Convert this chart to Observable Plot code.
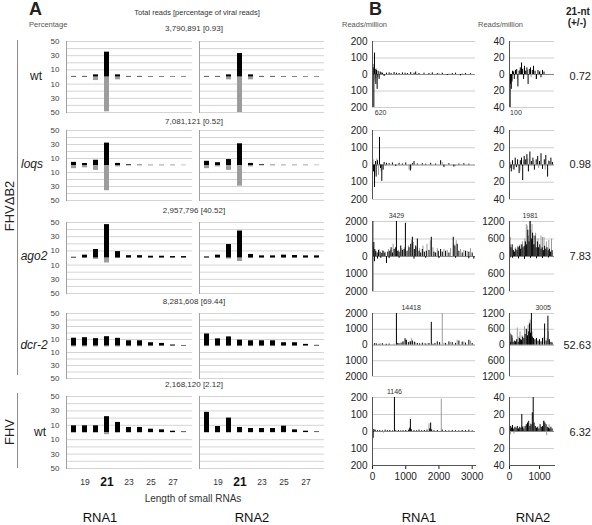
<!DOCTYPE html>
<html><head><meta charset="utf-8">
<script src="https://cdn.jsdelivr.net/npm/d3@7"></script>
<script src="https://cdn.jsdelivr.net/npm/@observablehq/plot@0.6"></script>
<style>
body{margin:0;background:#fff;}
#fig{position:relative;width:592px;height:525px;overflow:hidden;font-family:"Liberation Sans",Arial,sans-serif;color:#222;background:#fff;}
.t{position:absolute;white-space:nowrap;line-height:1;}
.c{transform:translate(-50%,-50%);}
.r{transform:translate(-100%,-50%);}
.p{position:absolute;}
.p svg{overflow:visible;background:transparent;}
.vl{position:absolute;width:0;border-left:1.5px solid #8a8a8a;}
</style></head><body><div id="fig"></div>
<script>
// ---------------- DATA ----------------
const lengths = [18,19,20,21,22,23,24,25,26,27,28];
const xLabels = [19,23,25,27];
const xBold = [21];
const strains = ["wt","loqs","ago2","dcr-2","wt"];
const totalReads = ["3,790,891","7,081,121","2,957,796","8,281,608","2,168,120"];
const viralPct = ["0.93","0.52","40.52","69.44","2.12"];
const nt21Ratio = ["0.72","0.98","7.83","52.63","6.32"];
const aTicks = [-50,-30,-10,10,30,50];
const aGrid = [-50,-40,-30,-20,-10,10,20,30,40,50];

// Panel A: percentage of sense (+) and antisense (-) reads per length
const a_wt_rna1_s   = [0.8,0.8,3,35,3,0.8,0.8,0.6,0.6,0.5,0.5];
const a_wt_rna1_a   = [0.6,0.6,5,49,4,0.6,0.6,0.5,0.5,0.5,0.4];
const a_wt_rna2_s   = [0.8,0.8,3,33,3,0.8,0.8,0.6,0.6,0.5,0.5];
const a_wt_rna2_a   = [0.6,0.6,4,50,4,0.6,0.6,0.5,0.5,0.5,0.4];
const a_loqs_rna1_s = [4.5,2.8,7.5,32,3,1,0.5,0.3,0.3,0.3,0.2];
const a_loqs_rna1_a = [4.5,3.3,7,36,2,0.8,0.6,0.6,0.6,0.5,0.3];
const a_loqs_rna2_s = [6,4,8.5,31,3,1,0.4,0.3,0.3,0.3,0.2];
const a_loqs_rna2_a = [4.5,2,7,29.5,2,0.6,0.6,0.5,0.5,0.5,0.3];
const a_ago2_rna1_s = [1,4,12,47,9,3.3,3.3,2.5,2.5,2,2];
const a_ago2_rna1_a = [0.5,0.5,2,7,0.8,0.5,0.5,0.5,0.5,0.5,0.5];
const a_ago2_rna2_s = [1.5,4,19,38,5,3,3,4,3.5,3,3];
const a_ago2_rna2_a = [0.5,0.5,1.5,5,0.8,0.5,0.5,0.5,0.5,0.5,0.5];
const a_dcr2_rna1_s = [12,12.8,11.3,14.3,11.8,8,8,5,4,1.5,0.8];
const a_dcr2_rna1_a = [1.5,1.5,1.5,1.5,1.5,1.2,1.2,1,0.8,0.5,0.3];
const a_dcr2_rna2_s = [18.5,11,14,9,8,8,8,5,5,2.5,1];
const a_dcr2_rna2_a = [1,1,1,1,1,1,1,0.8,0.8,0.5,0.3];
const a_fhv_rna1_s  = [9.3,9.3,9.3,22,14,7,7,4.6,3.7,1.8,0.8];
const a_fhv_rna1_a  = [1,1,1,3,1,0.8,0.8,0.6,0.6,0.5,0.3];
const a_fhv_rna2_s  = [28,8.3,20,7,5.5,5.5,5.5,8.8,3.7,1.8,0.8];
const a_fhv_rna2_a  = [0.8,0.8,0.8,0.8,0.6,0.6,0.6,0.6,0.5,0.3,0.2];

// Panel B: reads/million along genome [position, value]
const bMaxRNA1 = [200,200,2000,2000,200];
const bMaxRNA2 = [40,40,1200,1200,40];
const bXTicksRNA1 = [0,1000,2000,3000];
const bXTicksRNA2 = [0,1000];

const b_wt_rna1_k = [[20,40],[40,-620],[60,130],[80,30],[100,-60],[120,25],[140,-90],[170,20],[200,-30],[230,15],[260,10],[300,8],[350,-12],[420,8],[500,10],[560,6],[650,12],[720,8],[800,6],[900,10],[980,8],[1050,6],[1150,12],[1250,8],[1300,15],[1400,6],[1550,8],[1700,6],[1800,10],[1950,6],[2100,8],[2250,-6],[2400,6],[2500,8],[2650,-8],[2800,6],[2950,5]];
const b_wt_rna1_g = [[30,60],[50,-40],[90,-25],[110,35],[150,-20],[190,-15],[600,-5],[1100,-6],[1600,-5],[2000,5],[2300,4],[2700,5]];
const b_wt_rna2_k = [[20,-100],[40,-12],[60,-18],[80,-8],[100,4],[130,3],[160,-6],[200,5],[240,6],[280,-15],[320,4],[360,8],[400,14],[430,6],[470,-6],[500,10],[540,4],[580,8],[620,-12],[660,6],[700,8],[760,5],[800,10],[850,4],[900,-6],[950,5],[1000,3],[1050,-4],[1100,5],[1150,3]];
const b_wt_rna2_g = [[30,-8],[90,-10],[150,4],[260,-6],[340,5],[450,7],[600,5],[720,-4],[880,-6],[1020,4]];

const b_loqs_rna1_k = [[30,-40],[60,-130],[90,20],[110,-70],[150,25],[210,160],[240,-20],[280,-95],[320,-30],[350,15],[420,10],[500,8],[600,12],[700,-8],[800,10],[900,6],[1000,12],[1140,-35],[1200,8],[1250,20],[1350,6],[1500,8],[1600,5],[1750,10],[1900,6],[2050,25],[2150,-15],[2300,8],[2450,-12],[2600,6],[2750,8],[2900,5]];
const b_loqs_rna1_g = [[20,30],[70,-50],[130,35],[180,-60],[260,-40],[400,-8],[1100,-30],[1160,-25],[2100,15],[2500,-10]];
const b_loqs_rna2_k = [[20,-4],[60,-8],[100,5],[150,-6],[190,8],[230,-3],[270,6],[320,-10],[360,5],[400,8],[440,-18],[490,10],[540,6],[580,12],[630,-8],[680,15],[730,4],[780,8],[830,-6],[890,6],[940,10],[1000,4],[1050,13],[1100,-5],[1160,6],[1210,11],[1270,-14],[1320,4],[1380,8],[1430,3]];
const b_loqs_rna2_g = [[40,3],[120,-5],[200,4],[350,-7],[470,5],[610,7],[810,5],[970,-4],[1190,-6],[1300,5]];

const b_ago2_rna1_k = [[10,2000],[10,-2000],[40,800],[70,400],[100,300],[140,200],[180,350],[230,250],[280,180],[320,300],[370,200],[420,-400],[460,250],[520,300],[560,500],[600,200],[650,400],[700,500],[720,3429],[760,300],[800,250],[850,600],[900,350],[950,400],[990,1900],[1040,300],[1100,500],[1150,700],[1200,1100],[1260,400],[1300,600],[1350,1000],[1400,300],[1450,200],[1500,400],[1560,250],[1620,300],[1700,350],[1770,1100],[1850,250],[1900,200],[1980,300],[2050,400],[2100,250],[2200,300],[2300,200],[2430,1100],[2480,600],[2550,700],[2600,300],[2700,200],[2800,300],[2900,250],[3000,200],[3050,-150],[60,-300],[150,-150],[250,-100],[500,-120],[800,-100],[1250,-150],[1600,-100],[2000,-120],[2500,-100],[2900,-130]];
const b_ago2_rna1_g = [[30,500],[90,250],[200,400],[300,350],[380,250],[480,400],[540,350],[620,700],[680,450],[780,350],[880,450],[960,500],[1080,600],[1180,900],[1230,800],[1320,500],[1420,450],[1520,600],[1640,700],[1740,900],[1820,500],[1950,450],[2150,400],[2250,350],[2350,450],[2450,700],[2520,900],[2650,400],[2750,350],[2850,300],[2950,450]];
const b_ago2_rna2_k = [[10,650],[50,300],[90,400],[130,200],[170,150],[210,250],[250,200],[290,300],[330,350],[370,250],[410,400],[450,300],[490,350],[530,500],[570,400],[610,900],[650,500],[690,1981],[730,600],[770,800],[810,400],[850,700],[890,300],[930,500],[970,300],[1010,400],[1050,250],[1090,300],[1130,200],[1170,350],[1210,250],[1250,300],[1290,200],[1330,250],[1370,150],[1420,200],[20,-50],[100,-60],[300,-80],[500,-100],[700,-60],[900,-80],[1100,-70],[1300,-50]];
const b_ago2_rna2_g = [[30,400],[110,250],[190,300],[270,350],[350,400],[430,500],[510,600],[560,1100],[590,1050],[630,700],[670,1200],[710,900],[750,1100],[790,700],[830,400],[870,800],[950,600],[1050,700],[1100,650],[1150,650],[1230,500],[1310,550],[1400,600]];

const b_dcr2_rna1_k = [[60,80],[120,60],[200,50],[300,80],[420,40],[500,60],[720,14418],[760,100],[800,80],[860,120],[920,200],[980,400],[1020,300],[1080,150],[1140,200],[1200,250],[1260,180],[1350,100],[1420,80],[1500,120],[1600,60],[1700,100],[1770,1440],[1820,50],[1880,100],[1950,200],[2020,150],[2200,100],[2300,200],[2400,150],[2500,100],[2600,250],[2700,180],[2800,120],[2900,300],[3000,100]];
const b_dcr2_rna1_g = [[100,100],[250,80],[400,50],[650,60],[900,150],[1000,300],[1100,200],[1180,400],[1300,150],[1560,100],[1650,80],[2100,2000],[2150,120],[2350,150],[2550,300],[2750,200],[2950,250]];
const b_dcr2_rna2_k = [[10,400],[40,100],[80,350],[120,100],[160,150],[200,120],[240,200],[290,100],[330,250],[370,200],[400,180],[440,300],[480,250],[520,400],[560,600],[600,350],[640,500],[670,800],[700,450],[730,3005],[760,300],[800,250],[850,200],[900,250],[950,150],[1000,200],[1050,120],[1100,250],[1170,800],[1220,150],[1280,1100],[1330,200],[1380,100],[1420,80]];
const b_dcr2_rna2_g = [[25,450],[60,400],[100,250],[260,650],[310,300],[350,500],[420,350],[500,700],[580,550],[620,750],[660,850],[690,950],[750,500],[820,200],[1000,100],[1150,300],[1250,250],[1300,500]];

const b_fhv_rna1_k = [[20,-40],[40,12],[80,8],[150,5],[220,6],[300,4],[380,8],[450,5],[520,6],[600,4],[660,1146],[700,5],[780,6],[850,4],[920,5],[1000,6],[1080,8],[1120,20],[1140,70],[1170,10],[1250,6],[1330,5],[1400,8],[1480,5],[1560,6],[1640,8],[1720,15],[1750,50],[1780,10],[1850,5],[1950,6],[2100,8],[2200,5],[2300,4],[2400,6],[2500,5],[2600,4],[2700,6],[2800,5],[2900,8],[3000,4]];
const b_fhv_rna1_g = [[60,6],[330,-10],[700,-5],[1100,6],[1700,45],[2070,190],[2500,-4],[2950,-6]];
const b_fhv_rna2_k = [[10,3],[40,6],[70,4],[100,7],[140,3],[180,5],[220,4],[260,6],[300,3],[340,5],[380,4],[410,20],[440,5],[480,3],[520,6],[560,8],[600,10],[640,12],[680,6],[720,8],[760,22],[790,40],[820,10],[860,6],[900,4],[940,5],[980,3],[1020,8],[1060,5],[1100,6],[1140,12],[1180,10],[1220,8],[1260,5],[1300,4],[1340,3],[1380,5],[1420,3]];
const b_fhv_rna2_g = [[30,-4],[150,-3],[450,6],[700,9],[1160,12],[1240,-5],[1320,8]];

// ---------------- LAYOUT ----------------
const fig = document.getElementById("fig");
const FONT = '"Liberation Sans", Arial, sans-serif';
function txt(s, x, y, style = "", cls = "c") {
  const d = document.createElement("div");
  d.className = "t" + (cls ? " " + cls : "");
  d.style.cssText += `left:${x}px;top:${y}px;${style}`;
  d.textContent = s; fig.appendChild(d); return d;
}
function place(el, left, top, w) {
  const d = document.createElement("div");
  d.className = "p"; d.style.left = left + "px"; d.style.top = top + "px"; d.style.width = w + "px";
  d.appendChild(el); fig.appendChild(d);
}

const aRows = [[41,112],[130,200],[222,293],[313,378],[396,468]];
const bRows = [[41,107],[130,199],[221,291],[313,376],[397,465]];
const aCols = [[66,192],[199,324]];
const bCols = [[372,475],[509,554]];

const aData = [
  [[a_wt_rna1_s,a_wt_rna1_a],[a_wt_rna2_s,a_wt_rna2_a]],
  [[a_loqs_rna1_s,a_loqs_rna1_a],[a_loqs_rna2_s,a_loqs_rna2_a]],
  [[a_ago2_rna1_s,a_ago2_rna1_a],[a_ago2_rna2_s,a_ago2_rna2_a]],
  [[a_dcr2_rna1_s,a_dcr2_rna1_a],[a_dcr2_rna2_s,a_dcr2_rna2_a]],
  [[a_fhv_rna1_s,a_fhv_rna1_a],[a_fhv_rna2_s,a_fhv_rna2_a]]
];
const bData = [
  [[b_wt_rna1_k,b_wt_rna1_g],[b_wt_rna2_k,b_wt_rna2_g]],
  [[b_loqs_rna1_k,b_loqs_rna1_g],[b_loqs_rna2_k,b_loqs_rna2_g]],
  [[b_ago2_rna1_k,b_ago2_rna1_g],[b_ago2_rna2_k,b_ago2_rna2_g]],
  [[b_dcr2_rna1_k,b_dcr2_rna1_g],[b_dcr2_rna2_k,b_dcr2_rna2_g]],
  [[b_fhv_rna1_k,b_fhv_rna1_g],[b_fhv_rna2_k,b_fhv_rna2_g]]
];

function aPanel(s, a, x0, x1, y0, y1, labels, xaxis) {
  const ml = labels ? 36 : 4, mr = 2, mt = 2, mb = xaxis ? 26 : 2;
  const W = x1 - x0, H = y1 - y0;
  const data = lengths.map((l, i) => ({l, s: s[i], a: -a[i]}));
  const marks = [
    Plot.ruleY(aGrid, {stroke: "#d4d4d4", strokeWidth: 1}),
    Plot.barY(data, {x: "l", y1: 0, y2: "a", fill: "#9c9c9c"}),
    Plot.barY(data, {x: "l", y1: 0, y2: "s", fill: "#000"}),
    Plot.frame({anchor: "left", stroke: "#a0a0a0"})
  ];
  if (labels) marks.push(Plot.axisY(aTicks, {label: null, tickFormat: d => String(Math.abs(d)), tickSize: 0, tickPadding: 7, fontSize: 8, color: "#444"}));
  if (xaxis) {
    marks.push(Plot.text(xLabels, {x: d => d, text: d => String(d), frameAnchor: "bottom", lineAnchor: "middle", dy: 14, fontSize: 8.5, fill: "#333"}));
    marks.push(Plot.text(xBold, {x: d => d, text: d => String(d), frameAnchor: "bottom", lineAnchor: "middle", dy: 14, fontSize: 12, fontWeight: "bold", fill: "#111"}));
  }
  const p = Plot.plot({
    width: W + ml + mr, height: H + mt + mb,
    marginLeft: ml, marginRight: mr, marginTop: mt, marginBottom: mb,
    style: {fontFamily: FONT, background: "transparent", overflow: "visible"},
    x: {type: "band", domain: lengths, paddingInner: 0.52, paddingOuter: 0.26, axis: null},
    y: {domain: [-50, 50], axis: null},
    marks
  });
  place(p, x0 - ml, y0 - mt, W + ml + mr);
}

function bPanel(black, gray, max, x0, x1, y0, y1, dom, xticks, annAnchor, annDx) {
  const ml = 34, mr = 2, mt = 14;
  const W = x1 - x0, H = y1 - y0;
  const mb = xticks ? 26 : 10;
  const height = mt + H + mb;
  const toObj = arr => arr.map(([p, v]) => ({p, v}));
  const k = toObj(black), g = toObj(gray);
  const ann = k.concat(g).filter(d => Math.abs(d.v) > max);
  const marks = [
    Plot.ruleY([-max, -max / 2, max / 2, max], {stroke: "#cfcfcf"}),
    Plot.ruleY([0], {stroke: "#555", strokeWidth: 0.7}),
    Plot.ruleX(g, {x: "p", y1: 0, y2: "v", stroke: "#9a9a9a", strokeWidth: 1}),
    Plot.ruleX(k, {x: "p", y1: 0, y2: "v", stroke: "#000", strokeWidth: 1}),
    Plot.ruleX([0], {y1: -max, y2: max, stroke: "#555", strokeWidth: 1}),
    Plot.axisY([-max, -max / 2, 0, max / 2, max], {label: null, tickFormat: d => String(Math.abs(d)), tickSize: 0, tickPadding: 5, fontSize: 10, color: "#222"}),
    Plot.text(ann.filter(d => d.v > 0), {x: "p", text: d => String(Math.abs(d.v)), frameAnchor: "top", lineAnchor: "middle", dy: -6, dx: annDx, textAnchor: annAnchor, fontSize: 7, fill: "#333"}),
    Plot.text(ann.filter(d => d.v < 0), {x: "p", text: d => String(Math.abs(d.v)), frameAnchor: "bottom", lineAnchor: "middle", dy: 5, dx: annDx, textAnchor: annAnchor, fontSize: 7, fill: "#333"})
  ];
  if (xticks) {
    marks.push(Plot.axisX(xticks, {label: null, tickFormat: d => String(d), tickSize: 4, tickPadding: 3, fontSize: 10, color: "#222"}));
    marks.push(Plot.frame({anchor: "bottom", stroke: "#555"}));
  }
  const p = Plot.plot({
    width: W + ml + mr, height,
    marginLeft: ml, marginRight: mr, marginTop: mt, marginBottom: mb,
    style: {fontFamily: FONT, background: "transparent", overflow: "visible"},
    x: {domain: dom, axis: null},
    y: {domain: [-max, max], range: [mt + H, mt], clamp: true, axis: null},
    marks
  });
  place(p, x0 - ml, y0 - mt, W + ml + mr);
}

// Panel A
aRows.forEach(([y0, y1], r) => {
  aCols.forEach(([x0, x1], c) => {
    aPanel(aData[r][c][0], aData[r][c][1], x0, x1, y0, y1, c === 0, r === 4);
  });
});

// Panel B
const annCfg = [
  [["start", 1], ["start", 0]],
  [["middle", 0], ["middle", 0]],
  [["middle", 0], ["middle", 0]],
  [["start", 5], ["start", 4]],
  [["middle", 0], ["middle", 0]]
];
bRows.forEach(([y0, y1], r) => {
  bPanel(bData[r][0][0], bData[r][0][1], bMaxRNA1[r], bCols[0][0], bCols[0][1], y0, y1, [0, 3100], r === 4 ? bXTicksRNA1 : null, annCfg[r][0][0], annCfg[r][0][1]);
  bPanel(bData[r][1][0], bData[r][1][1], bMaxRNA2[r], bCols[1][0], bCols[1][1], y0, y1, [0, 1500], r === 4 ? bXTicksRNA2 : null, annCfg[r][1][0], annCfg[r][1][1]);
});

// Text
txt("A", 29, 0, "font-size:18px;font-weight:bold;", "");
txt("B", 369, 0, "font-size:18px;font-weight:bold;", "");
txt("Total reads [percentage of viral reads]", 197, 13, "font-size:7.5px;color:#333;");
txt("Percentage", 29, 21, "font-size:7.5px;color:#555;", "");
txt("Reads/million", 342, 21, "font-size:7.5px;color:#555;", "");
txt("Reads/million", 478, 21, "font-size:7.5px;color:#555;", "");
txt("21-nt", 578, 12, "font-size:10px;font-weight:bold;");
txt("(+/-)", 577, 23, "font-size:10px;font-weight:bold;");

const aLabelY = [29, 122, 211, 302, 385];
const rowCenter = [76, 164, 256, 345, 432];
const strainX = [36, 32, 34, 34, 40];
aLabelY.forEach((y, i) => txt(`${totalReads[i]} [${viralPct[i]}]`, 194, y, "font-size:8px;color:#333;"));
strains.forEach((s, i) => txt(s, strainX[i], rowCenter[i], `font-size:12px;color:#222;${(i >= 1 && i <= 3) ? "font-style:italic;" : ""}`));
nt21Ratio.forEach((v, i) => txt(v, 591, rowCenter[i], "font-size:11px;color:#222;", "r"));

txt("FHV\u0394B2", 9, 206, "font-size:13px;color:#222;transform:translate(-50%,-50%) rotate(-90deg);", "");
txt("FHV", 9, 432, "font-size:13px;color:#222;transform:translate(-50%,-50%) rotate(-90deg);", "");
const l1 = document.createElement("div"); l1.className = "vl"; l1.style.cssText += "left:17px;top:40px;height:335px;"; fig.appendChild(l1);
const l2 = document.createElement("div"); l2.className = "vl"; l2.style.cssText += "left:17px;top:393px;height:75px;"; fig.appendChild(l2);

txt("Length of small RNAs", 193, 499, "font-size:10px;color:#333;");
txt("RNA1", 100, 517, "font-size:13px;color:#111;");
txt("RNA2", 252, 517, "font-size:13px;color:#111;");
txt("RNA1", 419, 517, "font-size:13px;color:#111;");
txt("RNA2", 533, 517, "font-size:13px;color:#111;");
</script></body></html>
